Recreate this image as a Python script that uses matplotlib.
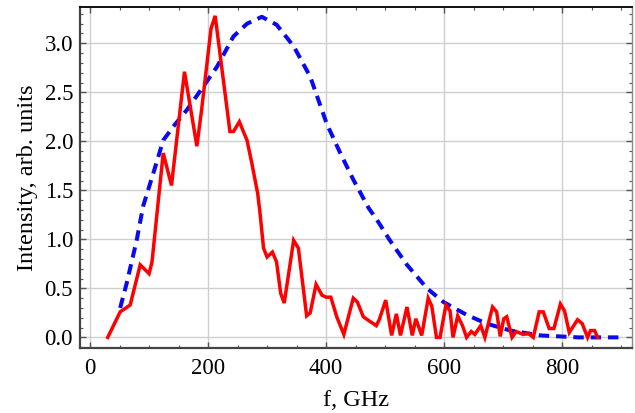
import matplotlib
matplotlib.use("Agg")
import matplotlib.pyplot as plt
from matplotlib.ticker import MultipleLocator

plt.rcParams['font.family'] = ['Liberation Serif', 'DejaVu Serif']

# Measured spectrum (red)
f_meas = [30, 51, 68, 85, 100, 105, 124, 138, 160, 181, 189, 205, 212, 237, 243, 253, 266,
          274, 284, 288, 294, 300, 309, 316, 323, 329, 345, 353, 367, 373, 383, 393, 400,
          408, 418, 430, 446, 453, 463, 475, 485, 490, 501, 511, 519, 526, 537, 546, 552,
          562, 573, 579, 587, 593, 603, 610, 615, 623, 631, 638, 646, 652, 662, 669, 682,
          689, 695, 701, 706, 715, 722, 734, 743, 751, 761, 768, 778, 786, 797, 804, 812,
          826, 834, 843, 848, 855, 860]
i_meas = [0.0, 0.26, 0.33, 0.74, 0.65, 0.77, 1.88, 1.55, 2.71, 1.95, 2.32, 3.15, 3.28, 2.10,
          2.10, 2.20, 2.01, 1.78, 1.47, 1.27, 0.91, 0.82, 0.87, 0.77, 0.45, 0.35, 0.99, 0.91,
          0.22, 0.25, 0.54, 0.43, 0.41, 0.41, 0.21, 0.03, 0.40, 0.36, 0.21, 0.16, 0.12, 0.18,
          0.38, 0.02, 0.24, 0.02, 0.31, 0.02, 0.19, 0.02, 0.40, 0.32, 0.0, 0.0, 0.33, 0.27,
          0.0, 0.22, 0.12, 0.0, 0.06, 0.03, 0.12, 0.0, 0.31, 0.26, 0.01, 0.19, 0.21, 0.0,
          0.06, 0.03, 0.04, 0.0, 0.26, 0.26, 0.09, 0.09, 0.34, 0.27, 0.05, 0.18, 0.14, 0.0,
          0.07, 0.07, 0.0]

# Calculated spectrum (blue dashed)
f_calc = [51, 62, 79, 90, 107, 124, 141, 164, 192, 215, 243, 266, 291, 316, 345, 373, 401,
          424, 446, 472, 486, 508, 537, 571, 599, 638, 672, 712, 763, 827, 904]
i_calc = [0.30, 0.55, 0.99, 1.34, 1.67, 2.01, 2.15, 2.32, 2.56, 2.76, 3.07, 3.20, 3.27, 3.19,
          2.97, 2.66, 2.18, 1.88, 1.61, 1.32, 1.20, 0.99, 0.74, 0.50, 0.36, 0.23, 0.14, 0.07,
          0.02, 0.0, 0.0]

x_ticks = [0, 200, 400, 600, 800]
y_ticks = [0.0, 0.5, 1.0, 1.5, 2.0, 2.5, 3.0]

fig = plt.figure(figsize=(6.35, 4.13), dpi=100)
ax = fig.add_axes([0.126, 0.157, 0.869, 0.826])

ax.grid(True, which='major', color='#cfcfcf', linewidth=1.0, zorder=0)
ax.plot(f_calc, i_calc, color='#0a0af0', linewidth=2.9, linestyle=(0, (2.6, 1.7)),
        zorder=3)
ax.plot(f_meas, i_meas, color='#ff0000', linewidth=2.5, zorder=4,
        solid_joinstyle='miter')

ax.set_xlim(-17, 918)
ax.set_ylim(-0.11, 3.37)
ax.set_xticks(x_ticks)
ax.set_yticks(y_ticks)
ax.set_yticklabels([f"{v:.1f}" for v in y_ticks])
ax.xaxis.set_minor_locator(MultipleLocator(50))
ax.yaxis.set_minor_locator(MultipleLocator(0.1))
ax.tick_params(which='both', direction='in', top=True, right=True, color='#555555',
               labelsize=16.5, pad=5)
ax.tick_params(which='major', length=4, width=1)
ax.tick_params(which='minor', length=2.5, width=0.8)
ax.tick_params(axis='x', pad=7)

for side in ['left', 'bottom']:
    ax.spines[side].set_color('#444444')
    ax.spines[side].set_linewidth(1.6)
ax.spines['top'].set_color('#111111')
ax.spines['top'].set_linewidth(1.4)
ax.spines['right'].set_color('#888888')
ax.spines['right'].set_linewidth(1.0)

ax.set_xlabel('f, GHz', fontsize=17.5, labelpad=8)
ax.set_ylabel('Intensity, arb. units', fontsize=17.5, labelpad=5)

fig.savefig('out.png', dpi=100)
